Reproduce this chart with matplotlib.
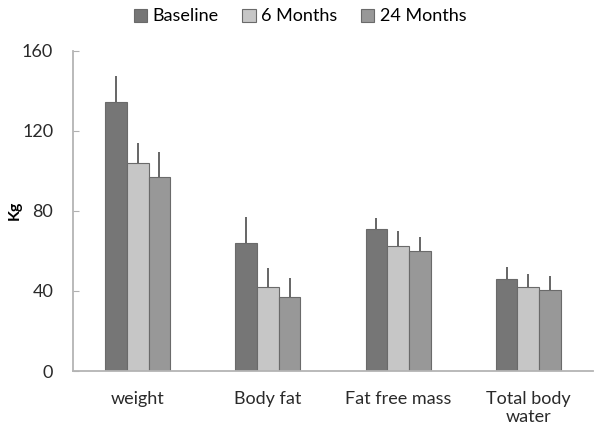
import numpy as np
import matplotlib
matplotlib.use('Agg')
import matplotlib.pyplot as plt
from matplotlib.patches import Patch

plt.rcParams['font.family'] = ['Lato', 'DejaVu Sans']

categories = ['weight', 'Body fat', 'Fat free mass', 'Total body\nwater']
series_names = ['Baseline', '6 Months', '24 Months']
baseline = [134.5, 63.8, 71.0, 46.0]
baseline_err = [12.7, 13.0, 5.7, 6.1]
month6 = [104.0, 41.8, 62.6, 41.8]
month6_err = [10.0, 9.8, 7.5, 6.7]
month24 = [96.9, 36.8, 60.0, 40.5]
month24_err = [12.4, 9.8, 6.8, 6.9]

colors = ['#767676', '#c6c6c6', '#989898']

fig = plt.figure(figsize=(6, 4.34), dpi=100)
ax = fig.add_axes([0.121, 0.145, 0.868, 0.738])

x = np.arange(len(categories))
w = 1 / 6
data = [(baseline, baseline_err), (month6, month6_err), (month24, month24_err)]
for i, (vals, errs) in enumerate(data):
    pos = x + (i - 1) * w
    ax.bar(pos, vals, width=w, color=colors[i], edgecolor='#6a6a6a', linewidth=0.8,
           label=series_names[i], zorder=2)
    # only upper error bars
    ax.errorbar(pos, vals, yerr=[np.zeros(len(vals)), errs], fmt='none',
                ecolor='#3c3c3c', elinewidth=1.1, capsize=0, zorder=3)

ax.set_xlim(-0.5, len(categories) - 0.5)
ax.set_ylim(0, 160)
ax.set_yticks([0, 40, 80, 120, 160])
ax.set_xticks(x)
ax.set_xticklabels(categories, fontsize=13, color='#2a2a2a', linespacing=1.2)
ax.tick_params(axis='x', length=0, pad=14)
ax.tick_params(axis='y', direction='in', length=4, color='#b0b0b0',
               labelsize=13, labelcolor='#2a2a2a', pad=14)

for s in ['top', 'right']:
    ax.spines[s].set_visible(False)
for s in ['left', 'bottom']:
    ax.spines[s].set_color('#b4b4b4')
    ax.spines[s].set_linewidth(1.3)

fig.text(0.025, 0.515, 'Kg', rotation=90, fontsize=11.5,
         fontweight='bold', ha='center', va='center')

handles = [Patch(facecolor=c, edgecolor='#6a6a6a', linewidth=0.8) for c in colors]
fig.legend(handles, series_names, loc='center', bbox_to_anchor=(0.5, 0.962), ncol=3,
           frameon=False, fontsize=13, handlelength=0.75, handleheight=0.75,
           handletextpad=0.3, columnspacing=1.3)

fig.savefig('out.png', dpi=100)
